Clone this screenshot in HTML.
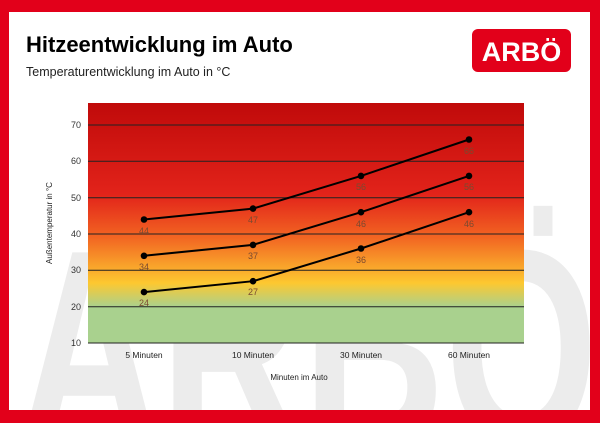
<!DOCTYPE html>
<html><head><meta charset="utf-8"><style>
html,body{margin:0;width:600px;height:423px;overflow:hidden;background:#e2001a;font-family:"Liberation Sans",sans-serif;}
</style></head><body>
<svg width="600" height="423" style="position:absolute;left:0;top:0;display:block">
<defs><linearGradient id="g" x1="0" y1="103" x2="0" y2="343" gradientUnits="userSpaceOnUse">
<stop offset="0" stop-color="#c00a0a"/>
<stop offset="0.38" stop-color="#e2231a"/>
<stop offset="0.56" stop-color="#f26522"/>
<stop offset="0.75" stop-color="#fdc830"/>
<stop offset="0.85" stop-color="#a9d18e"/>
<stop offset="1" stop-color="#a9d18e"/>
</linearGradient>
<clipPath id="c"><rect x="9" y="12" width="581" height="398"/></clipPath></defs>
<rect x="9" y="12" width="581" height="398" fill="#fff"/>
<g clip-path="url(#c)"><text x="18" y="445" font-size="280" font-weight="bold" fill="#ececec" textLength="580" lengthAdjust="spacingAndGlyphs">ARBÖ</text></g>
<text x="26" y="52" font-size="22" font-weight="bold" fill="#000">Hitzeentwicklung im Auto</text>
<text x="26" y="76" font-size="12.5" fill="#222">Temperaturentwicklung im Auto in °C</text>
<rect x="472" y="29" width="99" height="43" rx="6" fill="#e2001a"/>
<text x="521.5" y="61" font-size="27" font-weight="bold" fill="#fff" text-anchor="middle">ARBÖ</text>
<rect x="88" y="103" width="436" height="240" fill="url(#g)"/>
<g stroke="#222" stroke-width="1">
<line x1="88" x2="524" y1="125" y2="125"/><line x1="88" x2="524" y1="161.3" y2="161.3"/>
<line x1="88" x2="524" y1="197.7" y2="197.7"/><line x1="88" x2="524" y1="234" y2="234"/>
<line x1="88" x2="524" y1="270.3" y2="270.3"/><line x1="88" x2="524" y1="306.7" y2="306.7"/>
<line x1="88" x2="524" y1="343" y2="343"/></g>
<g font-size="9" fill="#333" text-anchor="end">
<text x="81" y="128">70</text><text x="81" y="164">60</text><text x="81" y="201">50</text>
<text x="81" y="237">40</text><text x="81" y="273">30</text><text x="81" y="310">20</text><text x="81" y="346">10</text></g>
<g font-size="8.5" fill="#222" text-anchor="middle">
<text x="144" y="358">5 Minuten</text><text x="253" y="358">10 Minuten</text>
<text x="361" y="358">30 Minuten</text><text x="469" y="358">60 Minuten</text>
<text x="299" y="380" font-size="8">Minuten im Auto</text>
<text transform="translate(52,223) rotate(-90)" font-size="8">Außentemperatur in °C</text></g>
<g fill="none" stroke="#000" stroke-width="2">
<polyline points="144,219.5 253,208.6 361,175.9 469,139.5"/>
<polyline points="144,255.8 253,244.9 361,212.2 469,175.9"/>
<polyline points="144,292.1 253,281.2 361,248.5 469,212.2"/></g>
<g fill="#000">
<circle cx="144" cy="219.5" r="3.3"/><circle cx="253" cy="208.6" r="3.3"/><circle cx="361" cy="175.9" r="3.3"/><circle cx="469" cy="139.5" r="3.3"/>
<circle cx="144" cy="255.8" r="3.3"/><circle cx="253" cy="244.9" r="3.3"/><circle cx="361" cy="212.2" r="3.3"/><circle cx="469" cy="175.9" r="3.3"/>
<circle cx="144" cy="292.1" r="3.3"/><circle cx="253" cy="281.2" r="3.3"/><circle cx="361" cy="248.5" r="3.3"/><circle cx="469" cy="212.2" r="3.3"/></g>
<g font-size="9" fill="#7a4a30" text-anchor="middle">
<text x="144" y="234">44</text><text x="253" y="223">47</text><text x="361" y="190">56</text><text x="469" y="154">66</text>
<text x="144" y="270">34</text><text x="253" y="259">37</text><text x="361" y="227">46</text><text x="469" y="190">56</text>
<text x="144" y="306">24</text><text x="253" y="295">27</text><text x="361" y="263">36</text><text x="469" y="227">46</text></g>
</svg>
</body></html>
